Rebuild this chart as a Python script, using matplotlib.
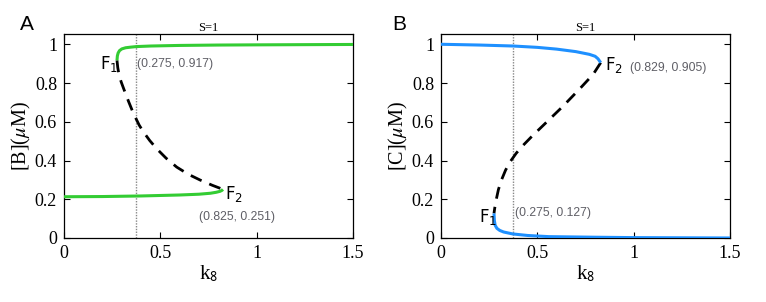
import matplotlib
matplotlib.use("Agg")
import matplotlib.pyplot as plt

plt.rcParams['mathtext.fontset'] = 'custom'
plt.rcParams['mathtext.rm'] = 'Liberation Sans'
plt.rcParams['mathtext.it'] = 'Liberation Sans:italic'

# Panel A: [B] vs k8
a_upper_x = [0.275, 0.277, 0.281, 0.288, 0.300, 0.320, 0.345, 0.375, 0.45, 0.6, 0.8, 1.0, 1.25, 1.5]
a_upper_y = [0.917, 0.940, 0.955, 0.967, 0.976, 0.982, 0.985, 0.988, 0.991, 0.994, 0.996, 0.997, 0.998, 0.999]
a_unst_x = [0.275, 0.279, 0.286, 0.297, 0.310, 0.335, 0.360, 0.390, 0.412, 0.445, 0.482, 0.530, 0.585, 0.645, 0.707, 0.770, 0.825]
a_unst_y = [0.917, 0.880, 0.840, 0.805, 0.770, 0.705, 0.644, 0.583, 0.548, 0.503, 0.460, 0.412, 0.366, 0.329, 0.299, 0.272, 0.251]
a_lower_x = [0.0, 0.2, 0.4, 0.6, 0.7, 0.76, 0.79, 0.81, 0.82, 0.825]
a_lower_y = [0.213, 0.214, 0.217, 0.222, 0.226, 0.231, 0.236, 0.241, 0.246, 0.251]

# Panel B: [C] vs k8
b_upper_x = [0.0, 0.2, 0.375, 0.5, 0.6, 0.7, 0.77, 0.80, 0.815, 0.829]
b_upper_y = [1.0, 0.996, 0.991, 0.984, 0.975, 0.962, 0.948, 0.938, 0.925, 0.905]
b_unst_x = [0.829, 0.790, 0.720, 0.631, 0.550, 0.475, 0.420, 0.390, 0.360, 0.335, 0.315, 0.298, 0.286, 0.279, 0.275]
b_unst_y = [0.905, 0.845, 0.770, 0.678, 0.600, 0.528, 0.472, 0.437, 0.395, 0.350, 0.302, 0.250, 0.195, 0.155, 0.127]
b_lower_x = [0.275, 0.277, 0.281, 0.290, 0.305, 0.325, 0.372, 0.45, 0.56, 0.8, 1.0, 1.5]
b_lower_y = [0.127, 0.090, 0.066, 0.050, 0.039, 0.031, 0.021, 0.013, 0.007, 0.004, 0.002, 0.0]

s_line_x = 0.373
xticks = [0, 0.5, 1, 1.5]
xticklabels = ['0', '0.5', '1', '1.5']
yticks = [0, 0.2, 0.4, 0.6, 0.8, 1]
yticklabels = ['0', '0.2', '0.4', '0.6', '0.8', '1']

green = '#33cc33'
blue = '#1e90ff'
gray_txt = '#5f5f66'

fig = plt.figure(figsize=(7.66, 3.02), dpi=100)
axA = fig.add_axes([64/766, 64/302, 289/766, 204/302])
axB = fig.add_axes([441/766, 64/302, 289/766, 204/302])

def style(ax, ylab):
    ax.set_xlim(0, 1.5)
    ax.set_ylim(0, 1.053)
    ax.set_xticks(xticks)
    ax.set_xticklabels(xticklabels, family='Liberation Serif', fontsize=13)
    ax.set_yticks(yticks)
    ax.set_yticklabels(yticklabels, family='Liberation Serif', fontsize=13)
    ax.tick_params(direction='in', top=True, right=True, length=4, width=0.8, pad=5)
    for s in ax.spines.values():
        s.set_linewidth(0.9)
    ax.set_xlabel(r'k$_{\mathsf{8}}$', family='Liberation Serif', fontsize=15,
                  math_fontfamily='stix', labelpad=1)
    ax.set_ylabel(ylab, family='Liberation Serif', fontsize=14.5,
                  math_fontfamily='stix', labelpad=1)
    ax.set_title('S=1', family='Liberation Serif', fontsize=9, pad=2)
    ax.axvline(s_line_x, color='#888888', lw=1.0, ls=(0, (1, 1)), zorder=1)

style(axA, r'[B]($\mu$M)')
style(axB, r'[C]($\mu$M)')

axA.plot(a_upper_x, a_upper_y, color=green, lw=2.2, solid_capstyle='butt', zorder=3)
axA.plot(a_lower_x, a_lower_y, color=green, lw=2.2, solid_capstyle='butt', zorder=3)
axA.plot(a_unst_x, a_unst_y, color='black', lw=2.0, dashes=(4.3, 3.0), zorder=2)

axB.plot(b_upper_x, b_upper_y, color=blue, lw=2.2, solid_capstyle='butt', zorder=3)
axB.plot(b_lower_x, b_lower_y, color=blue, lw=2.2, solid_capstyle='butt', zorder=3)
axB.plot(b_unst_x, b_unst_y, color='black', lw=2.0, dashes=(4.3, 3.0), zorder=2)

# labels
axA.text(0.187, 0.90, r'$\mathregular{F_1}$', fontsize=12, ha='left', va='center')
axA.text(0.378, 0.90, '(0.275, 0.917)', fontsize=8.8, color=gray_txt, family='Liberation Sans',
         ha='left', va='center')
axA.text(0.835, 0.225, r'$\mathregular{F_2}$', fontsize=12, ha='left', va='center')
axA.text(0.70, 0.107, '(0.825, 0.251)', fontsize=8.8, color=gray_txt, family='Liberation Sans',
         ha='left', va='center')

axB.text(0.85, 0.895, r'$\mathregular{F_2}$', fontsize=12, ha='left', va='center')
axB.text(0.98, 0.88, '(0.829, 0.905)', fontsize=8.8, color=gray_txt, family='Liberation Sans',
         ha='left', va='center')
axB.text(0.195, 0.11, r'$\mathregular{F_1}$', fontsize=12, ha='left', va='center')
axB.text(0.385, 0.13, '(0.275, 0.127)', fontsize=8.8, color=gray_txt, family='Liberation Sans',
         ha='left', va='center')

fig.text(20/766, 1 - 24/302, 'A', fontsize=15, family='Liberation Sans', ha='left', va='center')
fig.text(392/766, 1 - 24/302, 'B', fontsize=15, family='Liberation Sans', ha='left', va='center')

fig.savefig('out.png', dpi=100)
